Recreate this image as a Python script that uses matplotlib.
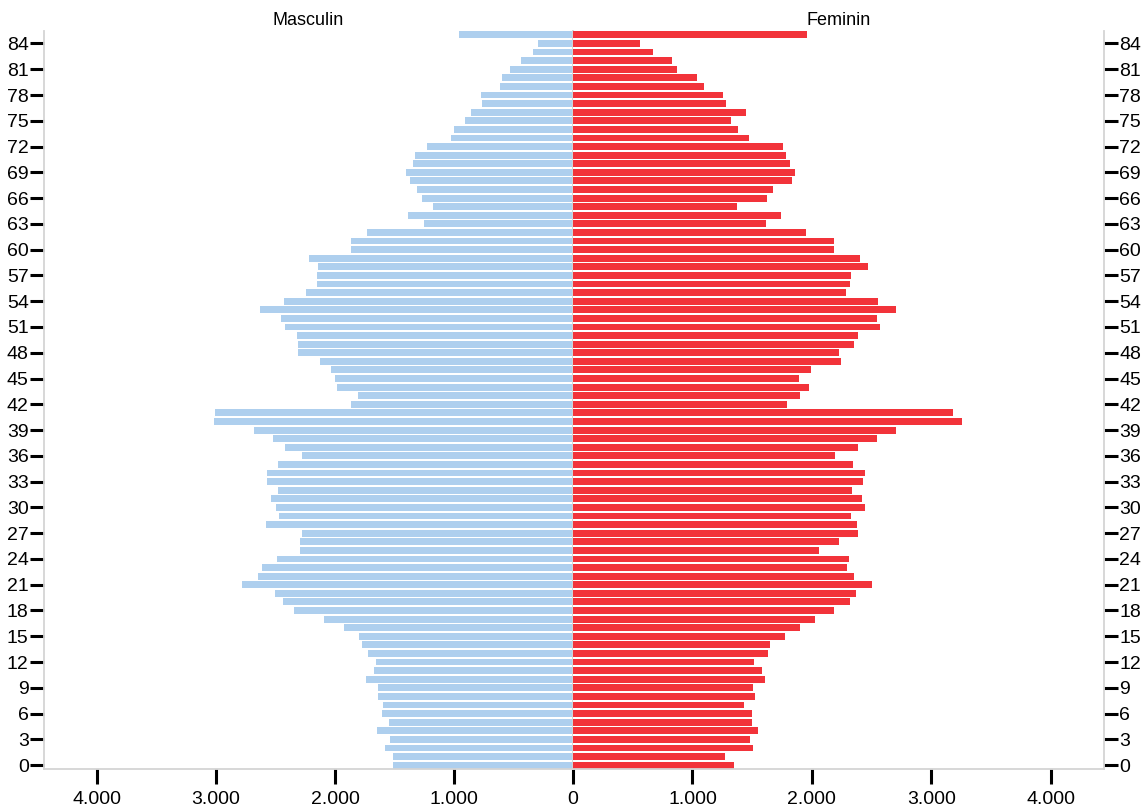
import matplotlib
matplotlib.use("Agg")
import matplotlib.pyplot as plt
import numpy as np

plt.rcParams['font.family'] = ['Liberation Sans', 'DejaVu Sans']

# Age groups 0..85
ages = list(range(0, 86))

# Population by single year of age (index = age)
masculin = [
    1514, 1514, 1581, 1540, 1649, 1546, 1607, 1597, 1639, 1639,
    1742, 1674, 1655, 1723, 1774, 1800, 1925, 2091, 2345, 2435,
    2502, 2781, 2646, 2611, 2486, 2294, 2294, 2277, 2579, 2470,
    2496, 2537, 2476, 2569, 2569, 2476, 2277, 2419, 2521, 2678,
    3015, 3006, 1867, 1806, 1982, 2002, 2034, 2127, 2310, 2310,
    2319, 2419, 2454, 2630, 2428, 2242, 2152, 2152, 2143, 2217,
    1867, 1867, 1732, 1254, 1389, 1177, 1270, 1312, 1373, 1405,
    1347, 1328, 1229, 1026, 1004, 911, 860, 767, 776, 616,
    600, 526, 433, 340, 298, 960,
]
feminin = [
    1350, 1275, 1509, 1484, 1550, 1500, 1500, 1434, 1525, 1509,
    1609, 1584, 1519, 1634, 1653, 1778, 1903, 2028, 2187, 2322,
    2372, 2506, 2356, 2297, 2312, 2062, 2228, 2387, 2381, 2331,
    2441, 2422, 2337, 2431, 2441, 2347, 2197, 2387, 2547, 2706,
    3259, 3184, 1794, 1903, 1978, 1894, 1994, 2247, 2228, 2356,
    2387, 2572, 2547, 2700, 2556, 2287, 2322, 2331, 2472, 2406,
    2187, 2187, 1953, 1619, 1744, 1375, 1628, 1678, 1837, 1862,
    1819, 1784, 1759, 1475, 1384, 1325, 1450, 1284, 1259, 1100,
    1041, 872, 831, 672, 562, 1962,
]

age_ticks = list(range(0, 85, 3))
x_ticks_m = [4000, 3000, 2000, 1000, 0]
x_labels_m = ['4.000', '3.000', '2.000', '1.000', '0']
x_ticks_f = [1000, 2000, 3000, 4000]
x_labels_f = ['1.000', '2.000', '3.000', '4.000']

BLUE = '#AECFEE'
RED = '#F2333A'
SPINE = '#D4D4D4'

W, H = 1145, 808
fig = plt.figure(figsize=(W / 100, H / 100), dpi=100)

left, mid, right = 44, 573, 1104
top, bottom = 31, 769
b = (H - bottom) / H
h = (bottom - top) / H

ax_m = fig.add_axes([left / W, b, (mid - left) / W, h])
ax_f = fig.add_axes([mid / W, b, (right - mid) / W, h])

ax_m.barh(ages, masculin, height=0.8, color=BLUE, edgecolor='none')
ax_f.barh(ages, feminin, height=0.8, color=RED, edgecolor='none')

XMAX = 4445
ax_m.set_xlim(XMAX, 0)
ax_f.set_xlim(0, XMAX)
for ax in (ax_m, ax_f):
    ax.set_ylim(-0.45, 85.45)
    ax.set_yticks(age_ticks)
    ax.set_yticklabels([str(a) for a in age_ticks])
    ax.tick_params(axis='y', length=10, width=2.2, color='black',
                   labelsize=14, pad=1)
    ax.tick_params(axis='x', length=11, width=2.2, color='black',
                   labelsize=14, pad=5, direction='out')
    ax.spines['top'].set_visible(False)
    for s in ax.spines.values():
        s.set_color(SPINE)
        s.set_linewidth(1.3)

ax_m.set_xticks(x_ticks_m)
ax_m.set_xticklabels(x_labels_m)
ax_f.set_xticks(x_ticks_f)
ax_f.set_xticklabels(x_labels_f)

ax_m.spines['right'].set_visible(True)
ax_f.spines['left'].set_visible(False)
ax_f.yaxis.tick_right()
ax_f.yaxis.set_label_position('right')

ax_m.set_title('Masculin', fontsize=13, pad=4)
ax_f.set_title('Feminin', fontsize=13, pad=4)

fig.savefig('out.png', dpi=100, facecolor='white')
